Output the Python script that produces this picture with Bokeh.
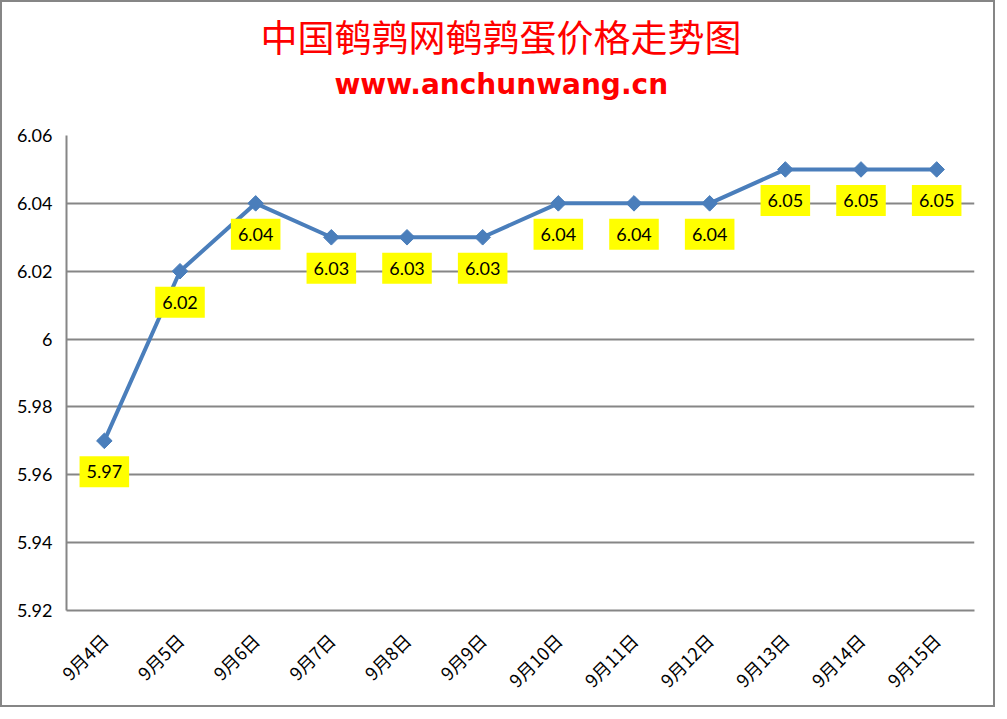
import math
from bokeh.plotting import figure
from bokeh.models import Label, FixedTicker, NumeralTickFormatter, Range1d, Title
from bokeh.embed import file_html
from bokeh.resources import INLINE

dates = ["9月4日", "9月5日", "9月6日", "9月7日", "9月8日", "9月9日",
         "9月10日", "9月11日", "9月12日", "9月13日", "9月14日", "9月15日"]
prices = [5.97, 6.02, 6.04, 6.03, 6.03, 6.03, 6.04, 6.04, 6.04, 6.05, 6.05, 6.05]
y_ticks = [5.92, 5.94, 5.96, 5.98, 6.00, 6.02, 6.04, 6.06]
title_text = "中国鹌鹑网鹌鹑蛋价格走势图"
subtitle_text = "www.anchunwang.cn"

GRAY = "#868686"
BLUE = "#4A7EBB"

p = figure(x_range=dates, y_range=Range1d(5.92, 6.06),
           width=995, height=707, output_backend="svg", toolbar_location=None,
           min_border_left=64, min_border_right=23, min_border_top=133,
           min_border_bottom=99)
p.styles = {"border": "2px solid #868686"}
p.outline_line_color = None
p.background_fill_color = "white"
p.border_fill_color = "white"

ticker = FixedTicker(ticks=y_ticks)
p.yaxis.ticker = ticker
p.yaxis.formatter = NumeralTickFormatter(format="0.[00]")
p.ygrid.ticker = ticker
p.ygrid.grid_line_color = GRAY
p.ygrid.grid_line_width = 2
p.xgrid.grid_line_color = None

for ax in (p.xaxis, p.yaxis):
    ax.axis_line_color = GRAY
    ax.axis_line_width = 2
    ax.major_tick_line_color = None
    ax.minor_tick_line_color = None
    ax.major_label_text_color = "black"

p.yaxis.major_label_text_font = "Lato"
p.yaxis.major_label_text_font_size = "18px"
p.yaxis.major_label_standoff = 8
p.xaxis.major_label_text_font = "Noto Sans CJK SC"
p.xaxis.major_label_text_font_size = "18px"
p.xaxis.major_label_orientation = math.pi / 4
p.xaxis.major_label_standoff = 20

p.line(dates, prices, line_color=BLUE, line_width=4)
p.scatter(dates, prices, marker="square", angle=math.pi / 4, size=11,
          fill_color=BLUE, line_color=BLUE)

for i, v in enumerate(prices):
    p.add_layout(Label(x=i + 0.5, y=v, text=f"{v:.2f}", y_offset=-31,
                       text_align="center", text_baseline="middle",
                       text_font="Lato", text_font_size="18px", text_color="black",
                       background_fill_color="#FFFF00", padding=dict(x=7, y=9)))

# spacer between the frame and the subtitle
p.add_layout(Title(text=" ", standoff=9, text_font="DejaVu Sans",
                   text_font_size="20px", text_color="white"), "above")
p.add_layout(Title(text=subtitle_text, align="left", offset=268, standoff=0,
                   text_font="DejaVu Sans", text_font_style="bold",
                   text_font_size="28px", text_color="#FF0000"), "above")
p.add_layout(Title(text=title_text, align="left", offset=194, standoff=5,
                   text_font="Noto Sans CJK SC", text_font_style="normal",
                   text_font_size="37px", text_color="#FF0000"), "above")

open("out.html", "w").write(file_html(p, INLINE))
